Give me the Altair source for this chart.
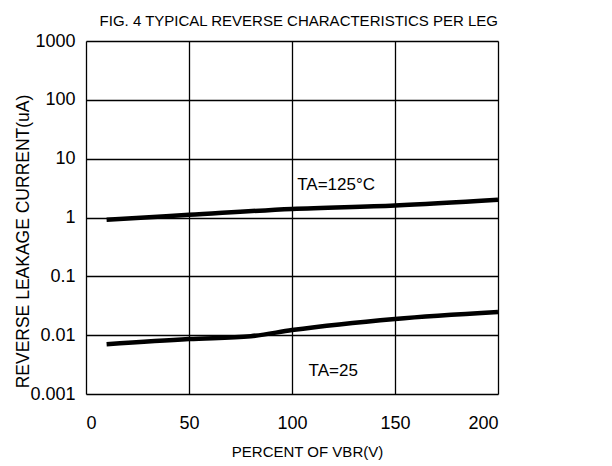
import altair as alt
import pandas as pd

# Data
x_125 = [10, 50, 100, 150, 200]
y_125 = [0.92, 1.11, 1.40, 1.60, 2.0]
x_25 = [10, 50, 80, 100, 150, 200]
y_25 = [0.0070, 0.0086, 0.0096, 0.0122, 0.0189, 0.0248]

label_text = ["TA=125°C", "TA=25"]
label_x = [121.4, 120.0]
label_y = [3.5, 0.00245]

x_ticks = [0, 50, 100, 150, 200]
y_ticks = [0.001, 0.01, 0.1, 1, 10, 100, 1000]

FONT = "Liberation Sans, Arial, sans-serif"

df = pd.DataFrame(
    {"x": x_125 + x_25,
     "y": y_125 + y_25,
     "series": ["125"] * len(x_125) + ["25"] * len(x_25)}
)
lab = pd.DataFrame({"x": label_x, "y": label_y, "t": label_text})

xs = alt.Scale(domain=[0, 200], nice=False, zero=False)
ys = alt.Scale(type="log", domain=[0.001, 1000], nice=False)

xax = alt.Axis(values=x_ticks, grid=True, gridColor="black", gridWidth=1.3, gridOpacity=1,
               domain=False, ticks=False, labelFont=FONT, labelFontSize=18,
               labelColor="black", labelPadding=20, title="PERCENT OF VBR(V)",
               titleFont=FONT, titleFontSize=15, titleFontWeight="normal",
               titleColor="black", titleX=221, titleY=62, titleBaseline="alphabetic")
yax = alt.Axis(values=y_ticks, format="~g", grid=True, gridColor="black", gridWidth=1.3,
               gridOpacity=1, domain=False, ticks=False, labelFont=FONT, labelFontSize=18,
               labelColor="black", labelPadding=11, title="REVERSE LEAKAGE CURRENT(uA)",
               titleFont=FONT, titleFontSize=17.5, titleFontWeight="normal",
               titleColor="black", titleX=-58, titleY=200, titleBaseline="alphabetic")

lines = alt.Chart(df).mark_line(color="black", strokeWidth=4.5, interpolate="monotone").encode(
    x=alt.X("x:Q", scale=xs, axis=xax),
    y=alt.Y("y:Q", scale=ys, axis=yax),
    detail="series:N",
)

texts = alt.Chart(lab).mark_text(font=FONT, fontSize=17, color="black").encode(
    x=alt.X("x:Q", scale=xs),
    y=alt.Y("y:Q", scale=ys),
    text="t:N",
)

chart = (lines + texts).properties(
    width=412,
    height=353,
    autosize=alt.AutoSizeParams(type="none"),
    padding={"left": 78, "top": 33, "right": 100, "bottom": 70},
    title=alt.TitleParams("FIG. 4 TYPICAL REVERSE CHARACTERISTICS PER LEG",
                          font=FONT, fontSize=15, fontWeight="normal", color="black",
                          anchor="end", frame="group", offset=12, dy=9),
).configure_view(stroke="black", strokeWidth=2).configure(background="white")

chart.save("out.html", embed_options={"renderer": "svg", "actions": False})
